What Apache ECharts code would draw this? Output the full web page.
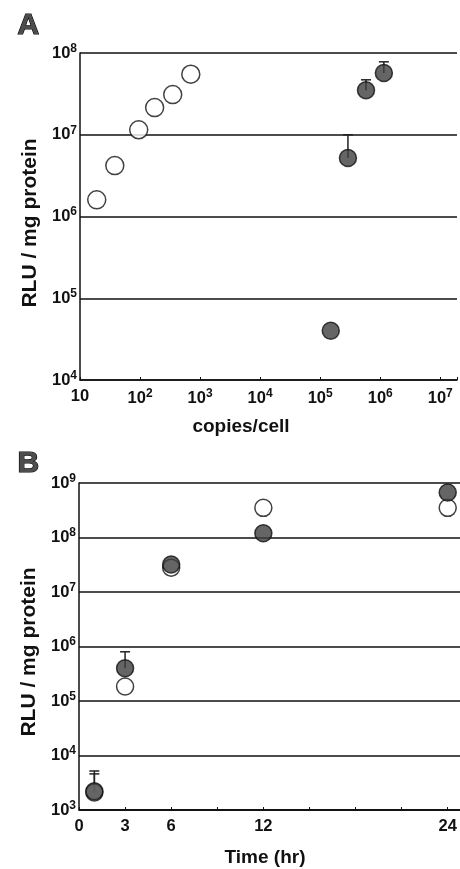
<!DOCTYPE html>
<html>
<head>
<meta charset="utf-8">
<script src="https://cdn.jsdelivr.net/npm/echarts@6/dist/echarts.min.js"></script>
<style>
  html, body { margin: 0; padding: 0; background: #fff; }
  #container { width: 460px; height: 869px; }
</style>
</head>
<body>
<div id="container"></div>
<script>
// panel A: copies/cell vs RLU / mg protein
var copiesOpen = [19, 38, 95, 175, 350, 700];
var rluOpen = [1.6e6, 4.2e6, 1.15e7, 2.15e7, 3.1e7, 5.5e7];
var copiesFilled = [1.5e5, 2.9e5, 5.8e5, 1.15e6];
var rluFilled = [4e4, 5.2e6, 3.5e7, 5.7e7];
var rluFilledErr = [null, 1e7, 4.7e7, 7.8e7];

// panel B: time course
var timeHr = [1, 3, 6, 12, 24];
var rluTimeOpen = [2.1e3, 1.85e5, 2.8e7, 3.5e8, 3.5e8];
var rluTimeFilled = [2.2e3, 4e5, 3.2e7, 1.2e8, 6.7e8];
var rluTimeFilledErr = [5.2e3, 8e5, null, null, null];
var rluTimeOpenErr = [4.6e3, null, null, null, null];
var timeLabels = [0, 3, 6, 12, 24];

var dom = document.getElementById("container");
var myChart = echarts.init(dom);

function pairs(xs, ys) {
  var out = [];
  for (var i = 0; i < xs.length; i++) out.push([xs[i], ys[i]]);
  return out;
}
function errPairs(xs, ys, hi) {
  var out = [];
  for (var i = 0; i < xs.length; i++) {
    if (hi[i] != null) out.push([xs[i], ys[i], hi[i]]);
  }
  return out;
}
function powLabel(v, plainTen) {
  var e = Math.log10(v);
  var r = Math.round(e);
  if (Math.abs(e - r) > 1e-6) return '';
  if (r === 1 && plainTen) return '{b|10}';
  return '{b|10}{s|' + r + '}';
}
var richTxt = {
  b: { fontSize: 16.5, fontWeight: 'bold', color: '#111', fontFamily: 'Liberation Sans' },
  s: { fontSize: 12, fontWeight: 'bold', color: '#111', fontFamily: 'Liberation Sans', padding: [0, 0, 9, 0] }
};
function errorBar(params, api) {
  var p0 = api.coord([api.value(0), api.value(1)]);
  var p1 = api.coord([api.value(0), api.value(2)]);
  return {
    type: 'group',
    children: [
      { type: 'line', shape: { x1: p0[0], y1: p0[1], x2: p1[0], y2: p1[1] }, style: { stroke: '#222', lineWidth: 1.5 } },
      { type: 'line', shape: { x1: p1[0] - 5, y1: p1[1], x2: p1[0] + 5, y2: p1[1] }, style: { stroke: '#222', lineWidth: 1.5 } }
    ]
  };
}
var nameStyle = { fontSize: 19, fontWeight: 'bold', color: '#111', fontFamily: 'Liberation Sans' };
var axisLineStyle = { lineStyle: { color: '#111', width: 1.5 } };
var splitStyle = { show: true, lineStyle: { color: '#111', width: 1.5 } };

var openStyle = { color: '#fff', borderColor: '#111', borderWidth: 1.5 };
var filledStyle = { color: '#3e3e3e', borderColor: '#111', borderWidth: 1.5 };
var letterStyle = { fontSize: 30, fontWeight: 'bold', fontFamily: 'Liberation Sans', fill: '#4d4d4d', stroke: '#000', lineWidth: 1.2 };

option = {
  animation: false,
  backgroundColor: '#fff',
  graphic: [
    { type: 'text', left: 17, top: 10, style: Object.assign({ text: 'A' }, letterStyle) },
    { type: 'text', left: 17, top: 448, style: Object.assign({ text: 'B' }, letterStyle) }
  ],
  grid: [
    { left: 80, top: 53, width: 380, height: 327 },
    { left: 79, top: 483, width: 381, height: 327 }
  ],
  xAxis: [
    {
      gridIndex: 0, type: 'log', logBase: 10, min: 10, max: 1.9e7,
      name: 'copies/cell', nameLocation: 'middle', nameGap: 37,
      nameTextStyle: Object.assign({ padding: [0, 55, 0, 0] }, nameStyle),
      axisLine: axisLineStyle,
      axisTick: { show: true, inside: true, length: 3, lineStyle: { color: '#111' } },
      axisLabel: { margin: 8, formatter: function (v) { return powLabel(v, true); }, rich: richTxt },
      splitLine: { show: false }
    },
    {
      gridIndex: 1, type: 'value', min: 0, max: 24.8, interval: 3,
      name: 'Time (hr)', nameLocation: 'middle', nameGap: 38,
      nameTextStyle: Object.assign({ padding: [0, 9, 0, 0] }, nameStyle),
      axisLine: axisLineStyle,
      axisTick: { show: true, inside: true, length: 3, lineStyle: { color: '#111' } },
      axisLabel: {
        margin: 8, showMaxLabel: false,
        formatter: function (v) { return timeLabels.indexOf(v) >= 0 ? '{b|' + v + '}' : ''; },
        rich: richTxt
      },
      splitLine: { show: false }
    }
  ],
  yAxis: [
    {
      gridIndex: 0, type: 'log', logBase: 10, min: 1e4, max: 1e8,
      name: 'RLU / mg protein', nameLocation: 'middle', nameGap: 37,
      nameTextStyle: Object.assign({}, nameStyle, { fontSize: 21, padding: [0, 13, 0, 0] }),
      axisLine: axisLineStyle, axisTick: { show: false },
      axisLabel: { margin: 3, formatter: function (v) { return powLabel(v, false); }, rich: richTxt },
      splitLine: splitStyle
    },
    {
      gridIndex: 1, type: 'log', logBase: 10, min: 1e3, max: 1e9,
      name: 'RLU / mg protein', nameLocation: 'middle', nameGap: 37,
      nameTextStyle: Object.assign({}, nameStyle, { fontSize: 21, padding: [0, 11, 0, 0] }),
      axisLine: axisLineStyle, axisTick: { show: false },
      axisLabel: { margin: 3, formatter: function (v) { return powLabel(v, false); }, rich: richTxt },
      splitLine: splitStyle
    }
  ],
  series: [
    { type: 'custom', xAxisIndex: 0, yAxisIndex: 0, renderItem: errorBar, data: errPairs(copiesFilled, rluFilled, rluFilledErr), z: 2 },
    { type: 'scatter', xAxisIndex: 0, yAxisIndex: 0, symbolSize: 18, itemStyle: openStyle, data: pairs(copiesOpen, rluOpen), z: 3 },
    { type: 'scatter', xAxisIndex: 0, yAxisIndex: 0, symbolSize: 17, itemStyle: filledStyle, data: pairs(copiesFilled, rluFilled), z: 4 },
    { type: 'custom', xAxisIndex: 1, yAxisIndex: 1, renderItem: errorBar, data: errPairs(timeHr, rluTimeFilled, rluTimeFilledErr), z: 2 },
    { type: 'custom', xAxisIndex: 1, yAxisIndex: 1, renderItem: errorBar, data: errPairs(timeHr, rluTimeOpen, rluTimeOpenErr), z: 2 },
    { type: 'scatter', xAxisIndex: 1, yAxisIndex: 1, symbolSize: 17, itemStyle: openStyle, data: pairs(timeHr, rluTimeOpen), z: 3 },
    { type: 'scatter', xAxisIndex: 1, yAxisIndex: 1, symbolSize: 17, itemStyle: filledStyle, data: pairs(timeHr, rluTimeFilled), z: 4 }
  ]
};

if (option && typeof option === "object") {
  myChart.setOption(option, true);
}
</script>
</body>
</html>
